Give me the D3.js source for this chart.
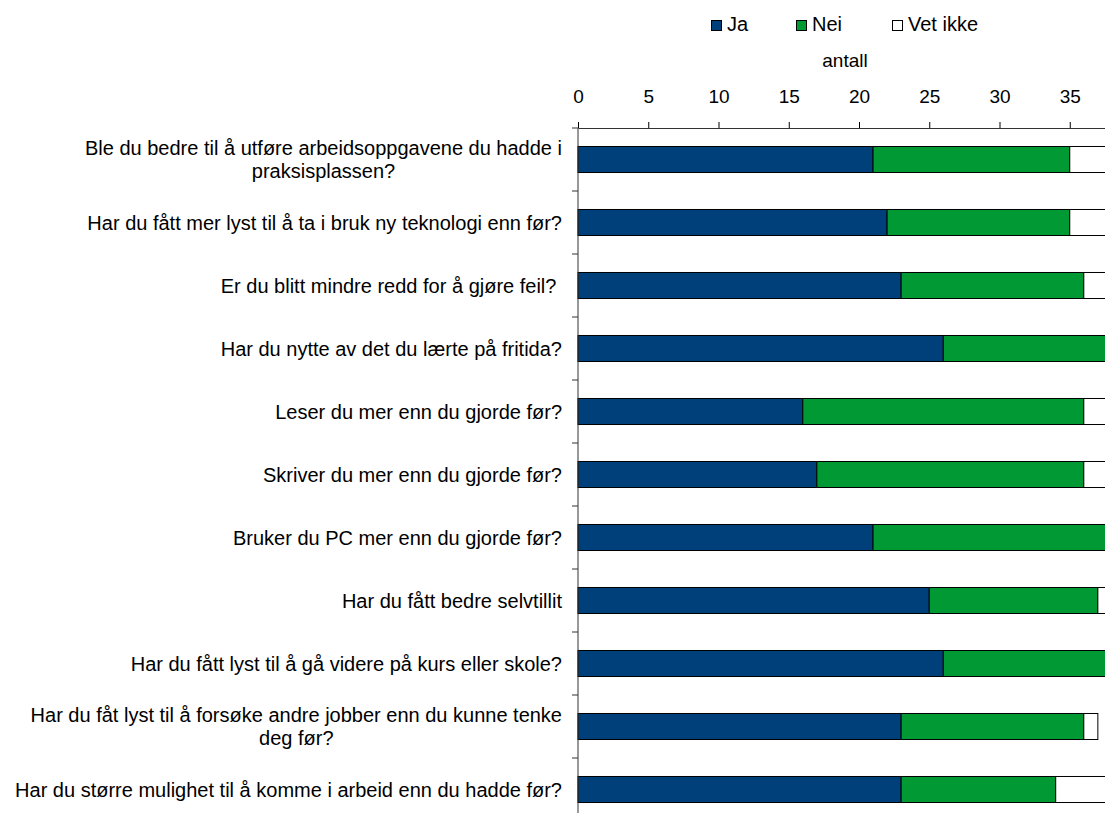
<!DOCTYPE html>
<html>
<head>
<meta charset="utf-8">
<script src="https://cdn.jsdelivr.net/npm/d3@7"></script>
<style>
  html, body { margin: 0; padding: 0; background: #fff; overflow: hidden; }
  svg { display: block; font-family: "Liberation Sans", Arial, sans-serif; }
</style>
</head>
<body>
<svg id="chart" width="1105" height="813"></svg>
<script>
const categories = [
  "Ble du bedre til å utføre arbeidsoppgavene du hadde i\npraksisplassen?",
  "Har du fått mer lyst til å ta i bruk ny teknologi enn før?",
  "Er du blitt mindre redd for å gjøre feil? ",
  "Har du nytte av det du lærte på fritida?",
  "Leser du mer enn du gjorde før?",
  "Skriver du mer enn du gjorde før?",
  "Bruker du PC mer enn du gjorde før?",
  "Har du fått bedre selvtillit",
  "Har du fått lyst til å gå videre på kurs eller skole?",
  "Har du fåt lyst til å forsøke andre jobber enn du kunne tenke\ndeg før?",
  "Har du større mulighet til å komme i arbeid enn du hadde før?"
];
const seriesNames = ["Ja", "Nei", "Vet ikke"];
const ja      = [21, 22, 23, 26, 16, 17, 21, 25, 26, 23, 23];
const nei     = [14, 13, 13, 12, 20, 19, 17, 12, 12, 13, 11];
const vetIkke = [ 3,  3,  2,  0,  2,  2,  0,  1,  0,  1,  4];
const xTicks  = [0, 5, 10, 15, 20, 25, 30, 35];
const axisTitle = "antall";
const colors = ["#00407A", "#009933", "#FFFFFF"];

const svg = d3.select("#chart");
const FS = 19;
const FS_LABEL = 20;

const x = d3.scaleLinear().domain([0, 40]).range([578, 578 + 40 * 14.05]);
const y = d3.scaleBand().domain(categories).range([128, 128 + 11 * 63])
  .paddingInner(0.587).paddingOuter(0.2935);

const rows = categories.map((c, i) => ({ cat: c, "Ja": ja[i], "Nei": nei[i], "Vet ikke": vetIkke[i] }));
const stack = d3.stack().keys(seriesNames)(rows);

// bars
svg.append("g").selectAll("g").data(stack).join("g")
  .attr("fill", (d, i) => colors[i])
  .selectAll("rect").data(d => d.filter(s => s[1] - s[0] > 0)).join("rect")
  .attr("x", d => x(d[0]))
  .attr("y", d => y(d.data.cat))
  .attr("width", d => x(d[1]) - x(d[0]))
  .attr("height", y.bandwidth())
  .attr("stroke", "#000")
  .attr("stroke-width", 1);

// top axis
const xAxis = svg.append("g")
  .attr("transform", `translate(0,${y.range()[0]})`)
  .call(d3.axisTop(x).tickValues(xTicks).tickSize(6).tickSizeOuter(0).tickPadding(19));
xAxis.select(".domain").attr("stroke", "#333");
xAxis.selectAll(".tick line").attr("stroke", "#000");
xAxis.selectAll(".tick text").attr("font-size", FS).attr("fill", "#000")
  .attr("font-family", "Liberation Sans, Arial, sans-serif");

// left axis (category boundaries)
const step = y.step();
const boundaries = d3.range(categories.length + 1).map(i => y.range()[0] + i * step);
const yAxis = svg.append("g");
yAxis.append("line")
  .attr("x1", x(0)).attr("x2", x(0))
  .attr("y1", y.range()[0]).attr("y2", y.range()[1])
  .attr("stroke", "#333");
yAxis.selectAll("line.t").data(boundaries).join("line").attr("class", "t")
  .attr("x1", x(0) - 6).attr("x2", x(0))
  .attr("y1", d => d).attr("y2", d => d)
  .attr("stroke", "#333");

// category labels
const labelRight = 562;
categories.forEach(c => {
  const lines = c.split("\n");
  const cy = y(c) + y.bandwidth() / 2;
  const t = svg.append("text")
    .attr("font-size", FS_LABEL).attr("fill", "#000")
    .style("white-space", "pre");
  if (lines.length === 1) {
    t.attr("x", labelRight).attr("y", cy).attr("dy", "0.35em")
      .attr("text-anchor", "end").text(lines[0]);
  } else {
    const first = t.append("tspan").attr("x", labelRight).attr("y", cy - 11.5)
      .attr("dy", "0.35em").attr("text-anchor", "end").text(lines[0]);
    const w = first.node().getComputedTextLength();
    t.append("tspan").attr("x", labelRight - w / 2).attr("y", cy + 11.5)
      .attr("dy", "0.35em").attr("text-anchor", "middle").text(lines[1]);
  }
});

// axis title
svg.append("text").attr("x", 845).attr("y", 67)
  .attr("text-anchor", "middle").attr("font-size", FS).attr("fill", "#000")
  .text(axisTitle);

// legend
const legendX = [711, 796, 892];
const lg = svg.append("g");
seriesNames.forEach((s, i) => {
  lg.append("rect").attr("x", legendX[i] + 0.5).attr("y", 20.5)
    .attr("width", 10).attr("height", 10)
    .attr("fill", colors[i]).attr("stroke", "#000");
  lg.append("text").attr("x", legendX[i] + 16).attr("y", 31)
    .attr("font-size", FS_LABEL).attr("fill", "#000").text(s);
});
</script>
</body>
</html>
